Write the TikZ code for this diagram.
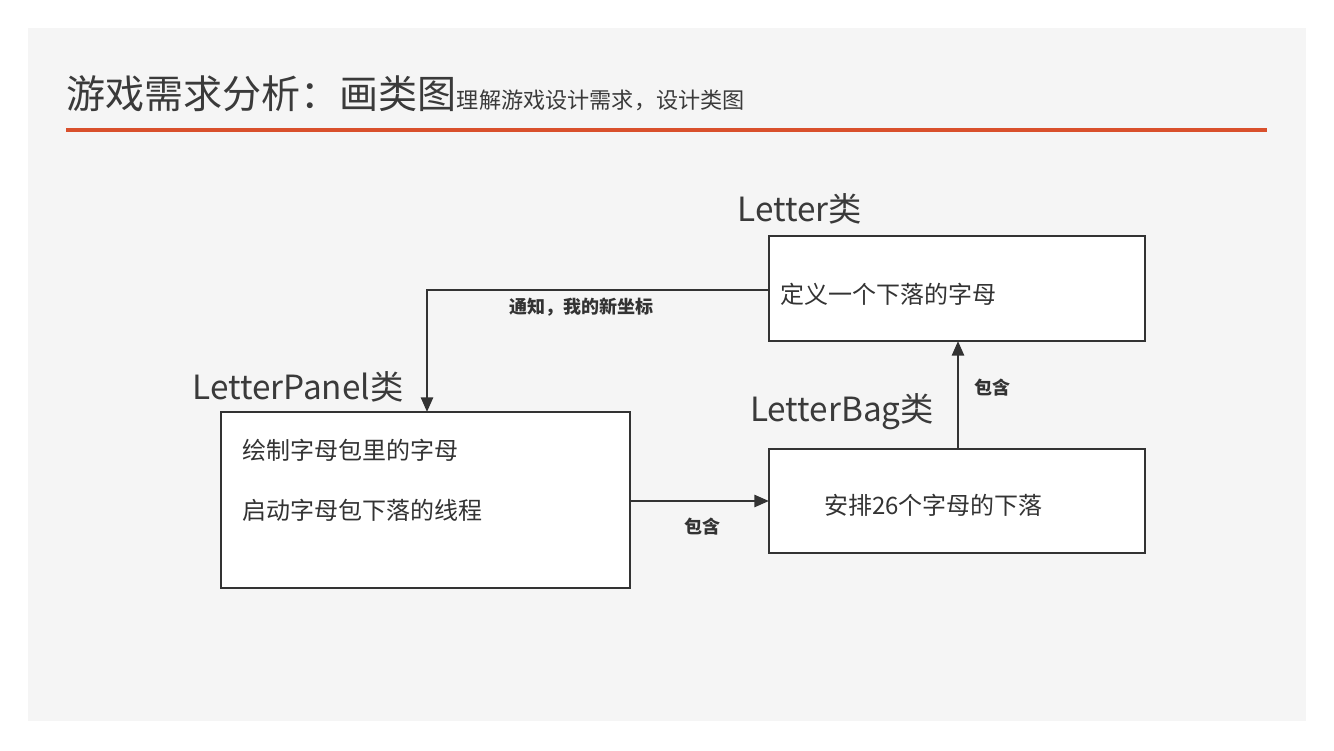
\documentclass[tikz,border=0pt]{standalone}
\usepackage{fontspec}
\setmainfont{Noto Sans CJK SC}
\usetikzlibrary{arrows.meta}
\definecolor{slidebg}{HTML}{F5F5F5}
\definecolor{ink}{HTML}{333333}
\definecolor{titleink}{HTML}{3A3A3A}
\definecolor{redline}{HTML}{D9502C}
\tikzset{
  classbox/.style={draw=ink, line width=2pt, fill=white},
  classname/.style={text=titleink, font=\fontsize{25}{30}\selectfont, inner sep=0pt},
  boxtext/.style={text=ink, font=\fontsize{18}{22}\selectfont, inner sep=0pt, anchor=west},
  conn/.style={draw=ink, line width=2pt, -{Triangle[length=11pt,width=9pt]}},
  connlabel/.style={text=ink, font=\bfseries\fontsize{13.5}{16}\selectfont, inner sep=0pt}
}
\begin{document}
\begin{tikzpicture}[x=0.75pt,y=-0.75pt]
\useasboundingbox (0,0) rectangle (1334,750);
\fill[white] (0,0) rectangle (1334,750);
\fill[slidebg] (28,28) rectangle (1306,721);
% title
\node[anchor=base west, inner sep=0pt, text=titleink] (title) at (66,108)
  {\fontsize{29.3}{34}\selectfont 游戏需求分析：画类图{\fontsize{16.6}{20}\selectfont 理解游戏设计需求，设计类图}};
\draw[redline, line width=2.4pt] (66,130) -- (1267,130);
% boxes
\draw[classbox] (769,236) rectangle (1145,341);
\node[classname, anchor=base] (lettername) at (800,221) {Letter类};
\node[boxtext] (lettertext) at (780,294) {定义一个下落的字母};

\draw[classbox] (221,412) rectangle (630,588);
\node[classname, anchor=base] (panelname) at (298,399) {LetterPanel类};
\node[boxtext] (paneltext1) at (242,450) {绘制字母包里的字母};
\node[boxtext] (paneltext2) at (242,510) {启动字母包下落的线程};

\draw[classbox] (769,449) rectangle (1145,553);
\node[classname, anchor=base] (bagname) at (842,421) {LetterBag类};
\node[boxtext] (bagtext) at (824,505) {安排26个字母的下落};

% named anchors for connectors
\coordinate (letterL) at (769,290);
\coordinate (letterB) at (958,341);
\coordinate (panelT) at (427,412);
\coordinate (panelR) at (630,501);
\coordinate (bagL) at (769,501);
\coordinate (bagT) at (958,449);

\draw[conn] (letterL) -- (427,290) -- (panelT);
\draw[conn] (panelR) -- (bagL);
\draw[conn] (bagT) -- (letterB);

\node[connlabel] (lab1) at (581,307) {通知，我的新坐标};
\node[connlabel] (lab2) at (702,527) {包含};
\node[connlabel] (lab3) at (992,388) {包含};
\end{tikzpicture}
\end{document}
